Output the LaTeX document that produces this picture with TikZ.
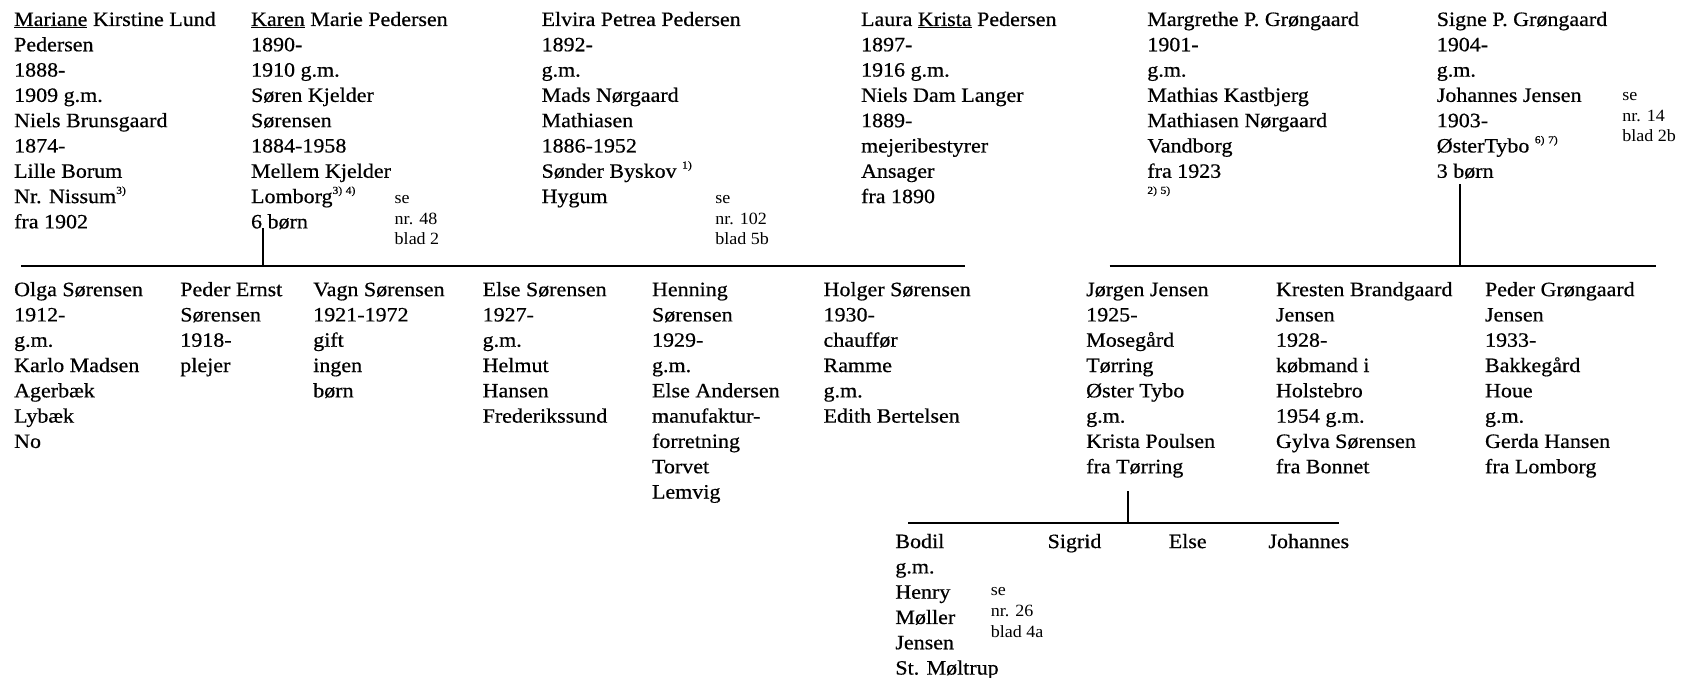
\documentclass[tikz,border=0pt]{standalone}
\usepackage{fontspec}
\setmainfont{Liberation Serif}[FakeStretch=1.08,FakeBold=0.5]
\newfontfamily\reffam{Liberation Serif}[FakeStretch=1.05]
\newcommand\mainfnt{\fontsize{19}{23.6}\selectfont}
\newcommand\smallfnt{\reffam\fontsize{16}{19.3}\selectfont}
\newcommand\fnote[1]{\raisebox{0.45em}{\fontsize{10}{10}\selectfont #1}}
\tikzset{
  col/.style={anchor=north west, inner sep=0pt, align=left, font=\mainfnt},
  refbox/.style={anchor=north west, inner sep=0pt, align=left, font=\smallfnt},
  famline/.style={line width=1.4pt, black}
}
\begin{document}
\begin{tikzpicture}[x=1pt,y=-1pt]
\useasboundingbox (0,0) rectangle (1568,632);
\fill[white] (0,0) rectangle (1568,632);

% ---- generation 1 ----
\node[col] (mariane) at (13,7.5) {\strut\underline{Mariane} Kirstine Lund\\Pedersen\\1888-\\1909 g.m.\\Niels Brunsgaard\\1874-\\Lille Borum\\Nr. Nissum\fnote{3)}\\fra 1902};
\node[col] (karen) at (234,7.5) {\strut\underline{Karen} Marie Pedersen\\1890-\\1910 g.m.\\Søren Kjelder\\Sørensen\\1884-1958\\Mellem Kjelder\\Lomborg\fnote{3)\,\,4)}\\6 børn};
\node[refbox] (karenref) at (368,176) {\strut se\\nr. 48\\blad 2};
\node[col] (elvira) at (505,7.5) {\strut Elvira Petrea Pedersen\\1892-\\g.m.\\Mads Nørgaard\\Mathiasen\\1886-1952\\Sønder Byskov \fnote{1)}\\Hygum};
\node[refbox] (elviraref) at (667,176) {\strut se\\nr. 102\\blad 5b};
\node[col] (laura) at (803,7.5) {\strut Laura \underline{Krista} Pedersen\\1897-\\1916 g.m.\\Niels Dam Langer\\1889-\\mejeribestyrer\\Ansager\\fra 1890};
\node[col] (margrethe) at (1070,7.5) {\strut Margrethe P. Grøngaard\\1901-\\g.m.\\Mathias Kastbjerg\\Mathiasen Nørgaard\\Vandborg\\fra 1923\\\fnote{2)\,\,5)}};
\node[col] (signe) at (1340,7.5) {\strut Signe P. Grøngaard\\1904-\\g.m.\\Johannes Jensen\\1903-\\ØsterTybo \fnote{6)\,\,7)}\\3 børn};
\node[refbox] (signeref) at (1513,80) {\strut se\\nr. 14\\blad 2b};

% ---- family lines ----
\coordinate (L1a) at (20,248);
\coordinate (L1b) at (900,248);
\coordinate (L2a) at (1035,248);
\coordinate (L2b) at (1545,248);
\coordinate (L3a) at (847,488);
\coordinate (L3b) at (1249,488);
\coordinate (kdrop) at (245.5,213);
\coordinate (sdrop) at (1362,172);
\coordinate (jdrop) at (1052,458);
\draw[famline] (L1a) -- (L1b);
\draw[famline] (L2a) -- (L2b);
\draw[famline] (L3a) -- (L3b);
\draw[famline] (kdrop) -- (kdrop |- L1a);
\draw[famline] (sdrop) -- (sdrop |- L2a);
\draw[famline] (jdrop) -- (jdrop |- L3a);

% ---- generation 2 ----
\node[col] (olga) at (13,259.5) {\strut Olga Sørensen\\1912-\\g.m.\\Karlo Madsen\\Agerbæk\\Lybæk\\No};
\node[col] (peder) at (168,259.5) {\strut Peder Ernst\\Sørensen\\1918-\\plejer};
\node[col] (vagn) at (292,259.5) {\strut Vagn Sørensen\\1921-1972\\gift\\ingen\\børn};
\node[col] (else) at (450,259.5) {\strut Else Sørensen\\1927-\\g.m.\\Helmut\\Hansen\\Frederikssund};
\node[col] (henning) at (608,259.5) {\strut Henning\\Sørensen\\1929-\\g.m.\\Else Andersen\\manufaktur-\\forretning\\Torvet\\Lemvig};
\node[col] (holger) at (768,259.5) {\strut Holger Sørensen\\1930-\\chauffør\\Ramme\\g.m.\\Edith Bertelsen};
\node[col] (jorgen) at (1013,259.5) {\strut Jørgen Jensen\\1925-\\Mosegård\\Tørring\\Øster Tybo\\g.m.\\Krista Poulsen\\fra Tørring};
\node[col] (kresten) at (1190,259.5) {\strut Kresten Brandgaard\\Jensen\\1928-\\købmand i\\Holstebro\\1954 g.m.\\Gylva Sørensen\\fra Bonnet};
\node[col] (pederg) at (1385,259.5) {\strut Peder Grøngaard\\Jensen\\1933-\\Bakkegård\\Houe\\g.m.\\Gerda Hansen\\fra Lomborg};

% ---- generation 3 ----
\node[col] (bodil) at (835,494.5) {\strut Bodil\\g.m.\\Henry\\Møller\\Jensen\\St. Møltrup};
\node[refbox] (bodilref) at (924,542) {\strut se\\nr. 26\\blad 4a};
\node[col] (sigrid) at (977,494.5) {\strut Sigrid};
\node[col] (else2) at (1090,494.5) {\strut Else};
\node[col] (johannes) at (1183,494.5) {\strut Johannes};
\end{tikzpicture}
\end{document}
